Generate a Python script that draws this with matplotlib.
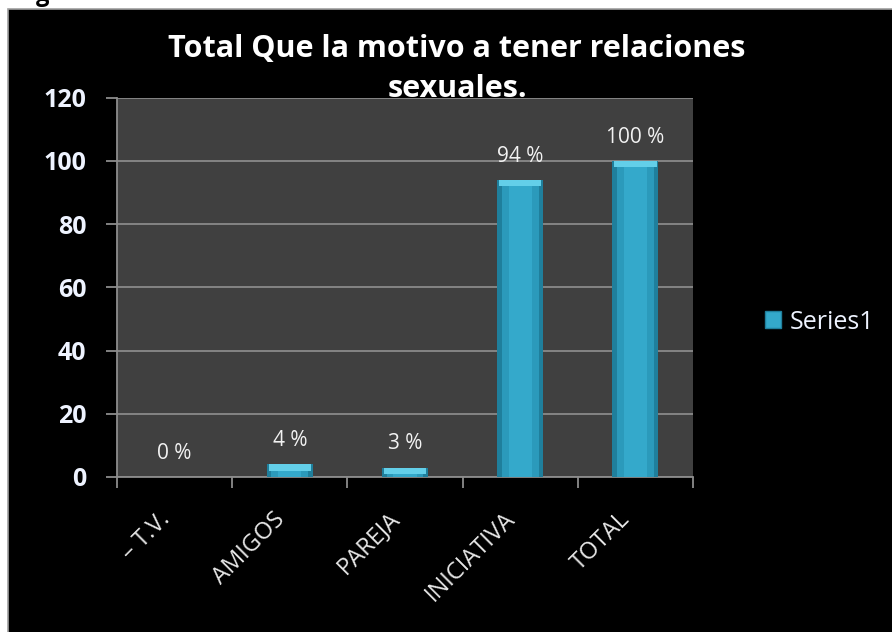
import matplotlib
matplotlib.use('Agg')
import matplotlib.pyplot as plt
from matplotlib.patches import Rectangle
import numpy as np

# datos del gráfico
categorias = ['– T.V.', 'AMIGOS', 'PAREJA', 'INICIATIVA', 'TOTAL']
valores = [0, 4, 3, 94, 100]
etiquetas = ['0 %', '4 %', '3 %', '94 %', '100 %']
yticks = [0, 20, 40, 60, 80, 100, 120]
titulo = 'Total Que la motivo a tener relaciones\nsexuales.'
serie = 'Series1'

plt.rcParams['font.family'] = ['Open Sans', 'DejaVu Sans']

W, H = 892, 632
fig = plt.figure(figsize=(W / 100, H / 100), dpi=100, facecolor='white')

# panel negro del gráfico
fig.patches.append(Rectangle((8 / W, -0.01), 1.0, 1 - 9 / H + 0.01, transform=fig.transFigure,
                             facecolor='black', edgecolor='#a0a0a0', linewidth=1.2, zorder=-10))
# resto del texto cortado arriba
fig.text(36 / W, 1 - 1 / H, 'g', fontsize=17, fontweight='bold', color='black',
         ha='left', va='baseline')

ax = fig.add_axes([117 / W, (H - 477) / H, 576 / W, (477 - 97.5) / H])
ax.set_facecolor('#404040')

x = np.arange(len(categorias))
ancho = 0.4

# barras con efecto de volumen (capas)
ax.bar(x, valores, width=ancho, color='#1f7f9c', zorder=3)
ax.bar(x, valores, width=ancho * 0.8, color='#2b9abb', zorder=4)
ax.bar(x, valores, width=ancho * 0.5, color='#34a9cb', zorder=5)
tapa = [min(v, 2.0) for v in valores]
base_tapa = [v - t for v, t in zip(valores, tapa)]
ax.bar(x, tapa, bottom=base_tapa, width=ancho * 0.92, color='#63cfe9', zorder=6)

for xi, v, et in zip(x, valores, etiquetas):
    ax.annotate(et, (xi, v), xytext=(0, 17), textcoords='offset points',
                ha='center', va='center', color='#f2f2f2', fontsize=15)

ax.set_xlim(-0.5, len(categorias) - 0.5)
ax.set_ylim(0, 120)
ax.set_yticks(yticks)
ax.set_yticklabels([str(t) for t in yticks], fontsize=18, fontweight='bold', color='#eef3ff')
ax.tick_params(axis='y', length=8, width=1.3, color='#8c8c8c', pad=14)

ax.set_xticks(x)
ax.set_xticklabels(categorias, rotation=45, ha='right', va='bottom', rotation_mode='anchor',
                   fontsize=17, color='#e6e6e6')
ax.set_xticks(np.arange(-0.5, len(categorias), 1.0), minor=True)
ax.tick_params(axis='x', which='major', length=0, pad=34)
ax.tick_params(axis='x', which='minor', length=8, width=1.3, color='#8c8c8c')

ax.grid(axis='y', color='#8a8a8a', linewidth=1.3, zorder=1)
ax.set_axisbelow(True)
for s in ['top', 'right']:
    ax.spines[s].set_visible(False)
for s in ['left', 'bottom']:
    ax.spines[s].set_color('#8c8c8c')
    ax.spines[s].set_linewidth(1.3)

fig.text(457 / W, 1 - 34 / H, titulo, ha='center', va='top', fontsize=22,
         fontweight='bold', color='white', linespacing=1.42,
         transform=fig.transFigure)

leg_h = Rectangle((0, 0), 1, 1, facecolor='#34a9cb', edgecolor='#1f7f9c')
fig.legend([leg_h], [serie], loc='center left', bbox_to_anchor=(742 / W, 1 - 322 / H),
           frameon=False, fontsize=18, labelcolor='#eef3ff', handlelength=0.65,
           handleheight=0.65, handletextpad=0.35)

fig.savefig('out.png', dpi=100, facecolor='white')
